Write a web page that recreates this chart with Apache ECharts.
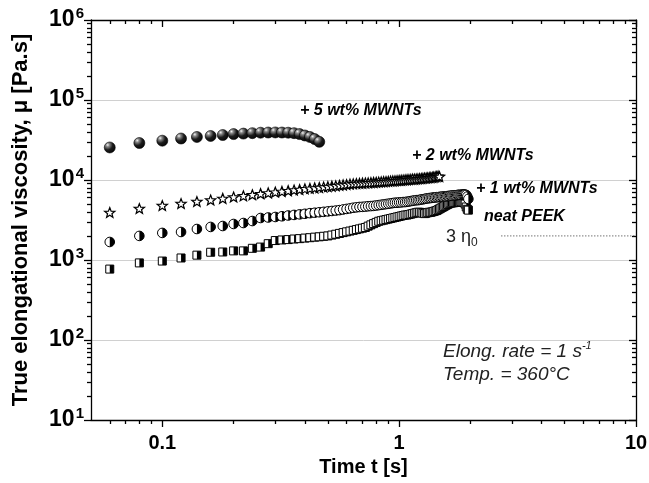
<!DOCTYPE html>
<html>
<head>
<meta charset="utf-8">
<script src="https://cdn.jsdelivr.net/npm/echarts@6/dist/echarts.min.js"></script>
<style>
html,body{margin:0;padding:0;background:#fff;}
#chart{width:649px;height:483px;}
</style>
</head>
<body>
<div id="chart"></div>
<script>
// sampling times [s], shared by all curves
var time = [
  0.06,0.08,0.10,0.12,0.14,0.16,0.18,0.20,0.22,0.24,
  0.26,0.28,0.30,0.32,0.34,0.36,0.38,0.40,0.42,0.44,
  0.46,0.48,0.50,0.52,0.54,0.56,0.58,0.60,0.62,0.64,
  0.66,0.68,0.70,0.72,0.74,0.76,0.78,0.80,0.82,0.84,
  0.86,0.88,0.90,0.92,0.94,0.96,0.98,1.00,1.02,1.04,
  1.06,1.08,1.10,1.12,1.14,1.16,1.18,1.20,1.22,1.24,
  1.26,1.28,1.30,1.32,1.34,1.36,1.38,1.40,1.42,1.44,
  1.46,1.48,1.50,1.52,1.54,1.56,1.58,1.60,1.62,1.64,
  1.66,1.68,1.70,1.72,1.74,1.76,1.78,1.80,1.82,1.84,
  1.86,1.88,1.90,1.92,1.94,1.96
];
// + 5 wt% MWNTs
var wt5 = [
  25500,29000,31000,33000,34500,35500,36500,37500,38000,38500,
  39000,39200,39300,39200,39000,38500,37500,36000,34500,32500,
  30000
];
// + 2 wt% MWNTs
var wt2 = [
  3870,4340,4730,5010,5310,5550,5800,6050,6250,6450,
  6650,6800,6950,7100,7250,7400,7500,7650,7750,7850,
  7950,8050,8150,8250,8350,8450,8550,8650,8750,8850,
  8900,8950,9000,9050,9100,9150,9200,9250,9300,9350,
  9400,9450,9500,9550,9600,9650,9700,9750,9800,9850,
  9900,9950,10000,10050,10100,10100,10150,10200,10250,10300,
  10350,10400,10450,10500,10550,10600,10650,10700,10800,10900,
  11000,10900
];
// + 1 wt% MWNTs
var wt1 = [
  1680,2000,2180,2240,2440,2590,2660,2820,2900,3070,
  3350,3400,3450,3520,3600,3660,3720,3780,3850,3900,
  3950,4000,4050,4100,4150,4200,4280,4350,4420,4500,
  4550,4600,4620,4650,4700,4720,4750,4800,4850,4900,
  4950,5000,5050,5100,5150,5200,5200,5250,5250,5300,
  5300,5350,5400,5450,5500,5550,5600,5600,5650,5700,
  5750,5800,5850,5900,5950,5950,6000,6050,6050,6100,
  6100,6150,6150,6200,6200,6250,6250,6300,6300,6350,
  6350,6400,6400,6450,6450,6500,6500,6550,6500,6550,
  6600,6600,6550,6500,6200,5800
];
// neat PEEK
var neat = [
  770,920,970,1060,1150,1250,1260,1300,1300,1400,
  1450,1600,1750,1780,1800,1830,1850,1880,1900,1930,
  1950,1980,2000,2050,2100,2150,2200,2250,2300,2350,
  2400,2450,2500,2550,2650,2750,2850,2950,3050,3100,
  3150,3200,3250,3300,3350,3400,3450,3500,3550,3600,
  3650,3650,3700,3750,3800,3850,3900,3950,3950,3900,
  3850,3800,3850,3900,3950,3950,4000,4050,4100,4150,
  4250,4350,4450,4550,4650,4750,4850,4950,5050,5150,
  5150,5200,5200,5250,5250,5300,5300,5300,5350,5300,
  5300,5250,5000,4600,4300,4200
];
// 3 eta0 reference line
var eta3Time = [2.7, 10];
var eta3Value = [2000, 2000];

var xMajorTicks = [0.1, 1, 10];
var xMinorTicks = [0.06,0.07,0.08,0.09,0.2,0.3,0.4,0.5,0.6,0.7,0.8,0.9,2,3,4,5,6,7,8,9];
var yMajorTicks = [10, 100, 1000, 10000, 100000, 1000000];
var yMinorTicks = [
  20,30,40,50,60,70,80,90,
  200,300,400,500,600,700,800,900,
  2000,3000,4000,5000,6000,7000,8000,9000,
  20000,30000,40000,50000,60000,70000,80000,90000,
  200000,300000,400000,500000,600000,700000,800000,900000
];

var FONT = '"Liberation Sans", Arial, Helvetica, sans-serif';

function pairs(vals){
  var out = [];
  for(var i=0;i<vals.length;i++) out.push([time[i], vals[i]]);
  return out;
}

// marker drawers
function ball(params, api){
  var p = api.coord([api.value(0), api.value(1)]);
  return {
    type:'circle',
    shape:{cx:p[0], cy:p[1], r:5.5},
    style:{
      fill:new echarts.graphic.RadialGradient(0.32,0.28,0.85,[
        {offset:0,color:'#f4f4f4'},{offset:0.18,color:'#8a8a8a'},{offset:0.5,color:'#1c1c1c'},{offset:1,color:'#000'}
      ]),
      stroke:'#000', lineWidth:0.6
    }
  };
}
function star(params, api){
  var p = api.coord([api.value(0), api.value(1)]);
  var pts = [];
  for(var k=0;k<10;k++){
    var r = k%2 ? 2.3 : 5.4;
    var a = -Math.PI/2 + k*Math.PI/5;
    pts.push([p[0]+r*Math.cos(a), p[1]+r*Math.sin(a)]);
  }
  return {type:'polygon', shape:{points:pts}, style:{fill:'#fff', stroke:'#000', lineWidth:1.2}};
}
function halfCircle(params, api){
  var p = api.coord([api.value(0), api.value(1)]);
  return {type:'group', children:[
    {type:'circle', shape:{cx:p[0], cy:p[1], r:4.8}, style:{fill:'#fff', stroke:'#000', lineWidth:1}},
    {type:'sector', shape:{cx:p[0], cy:p[1], r0:0, r:4.8, startAngle:-Math.PI/2, endAngle:Math.PI/2}, style:{fill:'#000'}}
  ]};
}
function halfSquare(params, api){
  var p = api.coord([api.value(0), api.value(1)]);
  return {type:'group', children:[
    {type:'rect', shape:{x:p[0]-4, y:p[1]-4, width:8, height:8}, style:{fill:'#fff', stroke:'#000', lineWidth:1}},
    {type:'rect', shape:{x:p[0], y:p[1]-4, width:4, height:8}, style:{fill:'#000'}}
  ]};
}

function markerSeries(name, vals, drawer){
  return {
    type:'custom', name:name, coordinateSystem:'cartesian2d',
    xAxisIndex:0, yAxisIndex:0, silent:true,
    encode:{x:0, y:1},
    renderItem:drawer,
    data:pairs(vals)
  };
}

var black = {color:'#000', width:1.3};

function xAxisDef(pos, ticks, len, inside, showLine, labels){
  return {
    type:'log', logBase:10, min:0.05, max:10, position:pos,
    axisLine:{show:showLine, onZero:false, lineStyle:black},
    axisTick:{show:true, customValues:ticks, length:len, inside:inside, lineStyle:black},
    minorTick:{show:false},
    axisLabel:labels ? {
      show:true, customValues:xMajorTicks, margin:13, color:'#000',
      fontFamily:FONT, fontSize:20, fontWeight:'bold',
      formatter:function(v){ return String(v); }
    } : {show:false},
    splitLine:{show:false}
  };
}
function yAxisDef(pos, ticks, len, inside, showLine, labels){
  return {
    type:'log', logBase:10, min:10, max:1000000, position:pos,
    axisLine:{show:showLine, onZero:false, lineStyle:black},
    axisTick:{show:true, customValues:ticks, length:len, inside:inside, lineStyle:black},
    minorTick:{show:false},
    axisLabel:labels ? {
      show:true, customValues:yMajorTicks, margin:7, color:'#000',
      formatter:function(v){
        var e = Math.round(Math.log(v)/Math.LN10);
        return '{b|10}{s|' + e + '}';
      },
      rich:{
        b:{fontFamily:FONT, fontSize:23, fontWeight:'bold', color:'#000'},
        s:{fontFamily:FONT, fontSize:15, fontWeight:'bold', color:'#000', padding:[0,0,12,1]}
      }
    } : {show:false},
    splitLine:{show:false}
  };
}

var x0 = xAxisDef('bottom', xMajorTicks, 7, false, true, true);
x0.name = 'Time t [s]';
x0.nameLocation = 'middle';
x0.nameGap = 37;
x0.nameTextStyle = {fontFamily:FONT, fontSize:20, fontWeight:'bold', color:'#000'};

var y0 = yAxisDef('left', yMajorTicks, 7, false, true, true);
y0.name = 'True elongational viscosity, \u03bc [Pa.s]';
y0.nameLocation = 'middle';
y0.nameGap = 59;
y0.nameTextStyle = {fontFamily:FONT, fontSize:22, fontWeight:'bold', color:'#000'};
y0.splitLine = {show:true, lineStyle:{color:'#d0d0d0', width:1}};

var chart = echarts.init(document.getElementById('chart'), null, {renderer:'canvas'});
chart.setOption({
  animation:false,
  backgroundColor:'#fff',
  grid:{left:91, right:13, top:20, bottom:63, containLabel:false, outerBoundsMode:'none'},
  xAxis:[
    x0,
    xAxisDef('bottom', xMinorTicks, 4, false, false, false),
    xAxisDef('top', xMajorTicks, 7, true, true, false),
    xAxisDef('top', xMinorTicks, 4, true, false, false)
  ],
  yAxis:[
    y0,
    yAxisDef('left', yMinorTicks, 4, false, false, false),
    yAxisDef('right', yMajorTicks, 7, true, true, false),
    yAxisDef('right', yMinorTicks, 4, true, false, false)
  ],
  series:[
    {
      type:'line', xAxisIndex:0, yAxisIndex:0, silent:true,
      data:[[eta3Time[0], eta3Value[0]], [eta3Time[1], eta3Value[1]]],
      symbol:'none',
      lineStyle:{color:'#333', width:1, type:[1,2]}
    },
    markerSeries('neat PEEK', neat, halfSquare),
    markerSeries('+ 1 wt% MWNTs', wt1, halfCircle),
    markerSeries('+ 2 wt% MWNTs', wt2, star),
    markerSeries('+ 5 wt% MWNTs', wt5, ball)
  ],
  graphic:[
    {type:'text', left:300, top:103, style:{text:'+ 5 wt% MWNTs', font:'italic bold 16px ' + FONT, fill:'#000'}},
    {type:'text', left:412, top:148, style:{text:'+ 2 wt% MWNTs', font:'italic bold 16px ' + FONT, fill:'#000'}},
    {type:'text', left:476, top:181, style:{text:'+ 1 wt% MWNTs', font:'italic bold 16px ' + FONT, fill:'#000'}},
    {type:'text', left:484, top:209, style:{text:'neat PEEK', font:'italic bold 16px ' + FONT, fill:'#000'}},
    {type:'text', left:446, top:228, style:{
      text:'{a|3 \u03b7}{b|0}',
      rich:{
        a:{fontFamily:FONT, fontSize:18, fill:'#222'},
        b:{fontFamily:FONT, fontSize:12, fill:'#222', padding:[12,0,0,0]}
      }
    }},
    {type:'text', left:443, top:340, style:{
      text:'{a|Elong. rate = 1 s}{b|-1}',
      rich:{
        a:{fontFamily:FONT, fontSize:19, fontStyle:'italic', fill:'#222'},
        b:{fontFamily:FONT, fontSize:11, fontStyle:'italic', fill:'#222', padding:[0,0,13,0]}
      }
    }},
    {type:'text', left:443, top:365, style:{text:'Temp. = 360\u00b0C', font:'italic 19px ' + FONT, fill:'#222'}}
  ]
});
</script>
</body>
</html>
